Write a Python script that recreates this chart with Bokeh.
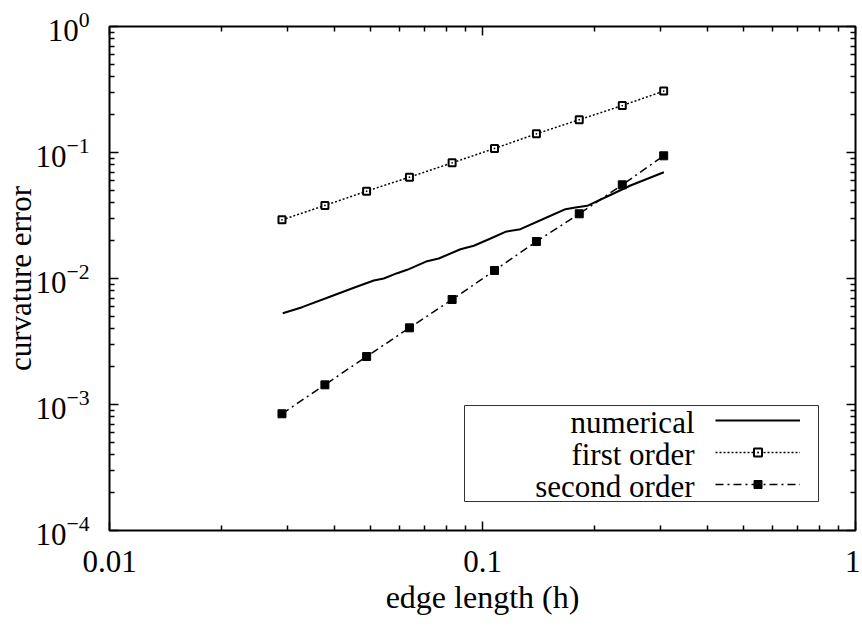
from bokeh.plotting import figure
from bokeh.models import (Range1d, FixedTicker, LogAxis, NumeralTickFormatter,
                          Legend, LegendItem, Label, BoxAnnotation, CustomJSTickFormatter)
from bokeh.embed import file_html
from bokeh.resources import INLINE

# ---------------- data ----------------
h_num = [0.02914, 0.03285, 0.03914, 0.04519, 0.05112, 0.05436, 0.05906, 0.06283,
         0.07105, 0.07632, 0.08730, 0.09478, 0.1051, 0.1152, 0.1264, 0.1460,
         0.1669, 0.1775, 0.1909, 0.2159, 0.2493, 0.3063]
err_num = [0.005303, 0.005920, 0.007197, 0.008437, 0.009641, 0.01000, 0.01102, 0.01172,
           0.01372, 0.01441, 0.01708, 0.01818, 0.02077, 0.02348, 0.02462, 0.02978,
           0.03548, 0.03660, 0.03776, 0.04475, 0.05470, 0.06977]
h_pts = [0.0290, 0.0378, 0.0489, 0.0637, 0.0829, 0.1077, 0.1395, 0.1817, 0.2370, 0.3060]
first_order = [0.0292, 0.0380, 0.0493, 0.0637, 0.0828, 0.1076, 0.1407, 0.1820, 0.2360, 0.3070]
second_order = [0.000844, 0.001433, 0.002404, 0.00406, 0.00681, 0.01158, 0.01966,
                0.03263, 0.0554, 0.09415]

x_ticks = [0.01, 0.1, 1]
y_ticks = [1e-4, 1e-3, 1e-2, 1e-1, 1]
x_label = "edge length (h)"
y_label = "curvature error"
legend_labels = ["numerical", "first order", "second order"]

FONT = "Liberation Serif"
FS = "31px"


def minors(lo, hi):
    return [m * 10.0 ** e for e in range(lo, hi) for m in range(2, 10)]


x_minor = minors(-2, 0)
y_minor = minors(-4, 0)

p = figure(width=860, height=630, x_axis_type="log", y_axis_type="log",
           x_range=Range1d(0.01, 1), y_range=Range1d(1e-4, 1),
           output_backend="svg", toolbar_location=None,
           min_border_left=109, min_border_right=5, min_border_top=26, min_border_bottom=100)
p.background_fill_color = "white"
p.border_fill_color = "white"
p.outline_line_color = "black"
p.outline_line_width = 2
p.xgrid.visible = False
p.ygrid.visible = False


def style_axis(ax, ticks, minor, labels):
    ax.ticker = FixedTicker(ticks=ticks, minor_ticks=minor)
    ax.axis_line_color = None
    ax.major_tick_in = 9
    ax.major_tick_out = 0
    ax.minor_tick_in = 5
    ax.minor_tick_out = 0
    ax.major_tick_line_color = "black"
    ax.minor_tick_line_color = "black"
    ax.major_tick_line_width = 1.5
    ax.minor_tick_line_width = 1.5
    ax.major_label_text_font = FONT
    ax.major_label_text_color = "black"
    if labels:
        ax.major_label_text_font_size = FS
    else:
        ax.major_label_text_font_size = "0px"
        ax.major_label_standoff = 0
        ax.formatter = CustomJSTickFormatter(code="return ''")


xa = p.xaxis[0]
ya = p.yaxis[0]
style_axis(xa, x_ticks, x_minor, True)
style_axis(ya, y_ticks, y_minor, True)
xa.formatter = NumeralTickFormatter(format="0.[00]")
xa.major_label_standoff = 20
ya.major_label_standoff = 20
for ax, lab in ((xa, x_label), (ya, y_label)):
    ax.axis_label = lab
    ax.axis_label_text_font = FONT
    ax.axis_label_text_font_size = FS
    ax.axis_label_text_font_style = "normal"
    ax.axis_label_text_color = "black"
xa.axis_label_text_font_size = "32px"
xa.axis_label_standoff = 4
ya.axis_label_standoff = -6

top_ax = LogAxis()
right_ax = LogAxis()
style_axis(top_ax, x_ticks, x_minor, False)
style_axis(right_ax, y_ticks, y_minor, False)
p.add_layout(top_ax, "above")
p.add_layout(right_ax, "right")

# ---------------- series ----------------
r_num = p.line(h_num, err_num, line_color="black", line_width=2)
r1_line = p.line(h_pts, first_order, line_color="black", line_width=1.5, line_dash="2 2")
r1_pts = p.scatter(h_pts, first_order, marker="square_dot", size=7, line_width=2,
                   line_color="black", fill_color="white")
r2_line = p.line(h_pts, second_order, line_color="black", line_width=1.5, line_dash="8 4 2 4")
r2_pts = p.scatter(h_pts, second_order, marker="square", size=8, line_width=1,
                   line_color="black", fill_color="black")

# ---------------- legend (gnuplot style: text right, sample left) ----------------
glyph_h = 20
gap = 12
leg_x = 606
leg_y = 36
legend = Legend(items=[LegendItem(label=" ", renderers=[r_num]),
                       LegendItem(label=" ", renderers=[r1_line, r1_pts]),
                       LegendItem(label=" ", renderers=[r2_line, r2_pts])],
                location=(leg_x, leg_y), orientation="vertical",
                glyph_width=85, glyph_height=glyph_h, label_standoff=0,
                label_width=0, label_height=0, label_text_font_size="1px",
                padding=0, spacing=gap, margin=0,
                border_line_alpha=0, background_fill_alpha=0)
p.add_layout(legend, "center")

p.add_layout(BoxAnnotation(left=355, right=709, bottom=29, top=125,
                           left_units="screen", right_units="screen",
                           bottom_units="screen", top_units="screen",
                           fill_alpha=0, line_color="#333333", line_width=1, line_alpha=1))

n = len(legend_labels)
for i, txt in enumerate(legend_labels):
    yc = leg_y + glyph_h / 2 + (n - 1 - i) * (glyph_h + gap)
    p.add_layout(Label(x=leg_x - 21, y=yc - 2, x_units="screen", y_units="screen",
                       text=txt, text_align="right", text_baseline="middle",
                       text_font=FONT, text_font_size=FS, text_color="black"))

open("out.html", "w").write(file_html(p, INLINE))
